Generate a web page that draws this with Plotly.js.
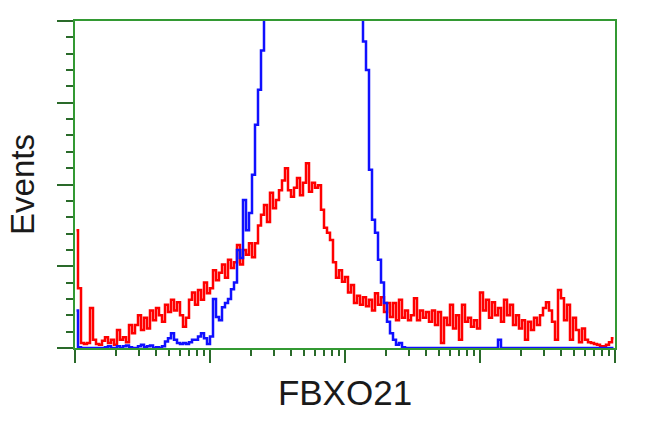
<!DOCTYPE html>
<html>
<head>
<meta charset="utf-8">
<script src="https://cdn.plot.ly/plotly-3.0.1.min.js"></script>
<style>html,body{margin:0;padding:0;background:#fff;}#chart{width:650px;height:431px;}</style>
</head>
<body>
<div id="chart"></div>
<script>
// Histogram counts per channel (180 channels spanning 4 log decades)
const redCounts = [
144,73,6,5,6,49,10,5,4,9,13,6,10,4,22,10,13,7,28,18,
28,40,22,37,24,46,34,49,40,32,53,44,59,46,56,40,26,37,59,68,
53,71,59,80,67,73,95,83,92,102,86,108,98,105,126,102,120,114,128,111,
128,150,163,175,154,190,171,181,193,205,220,193,185,196,208,187,202,226,191,202,
196,199,169,147,141,132,105,86,95,81,87,68,77,55,64,53,62,51,59,46,
67,53,62,44,55,38,55,34,59,37,46,34,40,61,34,46,37,44,32,46,
28,44,6,37,28,53,24,40,10,53,32,37,26,34,24,68,46,59,37,56,
40,49,32,59,40,53,28,40,24,34,10,32,22,37,28,40,49,56,46,32,
10,71,61,34,53,10,37,22,7,24,10,7,6,5,4,2,2,4,7,12
];
const blueCounts = [
46,1,0,0,0,0,0,0,0,0,1,2,0,0,2,0,2,3,1,0,
0,2,4,1,2,3,0,1,0,2,8,12,18,10,6,5,6,5,7,10,
10,14,18,12,5,14,60,38,34,50,55,60,72,80,120,110,181,144,165,212,
273,316,364,430,520,600,650,700,720,740,760,750,760,770,760,750,740,730,720,700,
690,680,670,650,640,620,600,580,560,540,520,500,480,460,440,420,375,340,218,157,
141,108,80,55,32,18,10,4,6,1,0,0,0,0,0,0,0,0,0,0,
0,0,0,0,0,0,0,0,0,0,0,0,0,0,0,0,0,0,0,0,
0,10,0,0,0,0,0,0,0,0,0,0,0,0,0,0,0,0,0,0,
0,0,0,0,0,0,0,0,0,0,0,0,0,0,0,0,0,0,0,0
];
const decades = [0, 1, 2, 3, 4];
const minorMultipliers = [2, 3, 4, 5, 6, 7, 8, 9];
const yMajor = [0, 100, 200, 300, 400];
const xTitle = 'FBXO21';
const yTitle = 'Events';

const nBins = redCounts.length;
const dx = 4 / nBins;
const minorX = [];
decades.slice(0, -1).forEach(d => minorMultipliers.forEach(m => minorX.push(d + Math.log10(m))));

const frame = '#339933';
const tickCol = '#2a6a2a';

const traces = [
  {type: 'scatter', mode: 'lines', x0: dx / 2, dx: dx, y: redCounts,
   line: {color: '#ff0000', width: 2.5, shape: 'hvh'}, hoverinfo: 'skip'},
  {type: 'scatter', mode: 'lines', x0: dx / 2, dx: dx, y: blueCounts,
   line: {color: '#1010ff', width: 2.5, shape: 'hvh'}, hoverinfo: 'skip'}
];

const layout = {
  width: 650, height: 431,
  margin: {l: 75, r: 35, t: 21, b: 83, pad: 0},
  paper_bgcolor: '#ffffff', plot_bgcolor: '#ffffff',
  showlegend: false,
  font: {family: 'Liberation Sans, Arial, sans-serif', color: '#1a1a1a'},
  xaxis: {
    range: [0, 4], tickmode: 'array', tickvals: decades, showticklabels: false,
    ticks: 'outside', ticklen: 13, tickwidth: 2, tickcolor: tickCol,
    showline: true, linecolor: frame, linewidth: 2, mirror: true,
    showgrid: false, zeroline: false,
    minor: {tickmode: 'array', tickvals: minorX, ticks: 'outside', ticklen: 6, tickwidth: 2, tickcolor: tickCol, showgrid: false},
    title: {text: xTitle, font: {size: 35, color: '#1a1a1a'}, standoff: 18}
  },
  yaxis: {
    range: [0, 400], tickmode: 'array', tickvals: yMajor, showticklabels: false,
    ticks: 'outside', ticklen: 16, tickwidth: 2, tickcolor: tickCol,
    showline: true, linecolor: frame, linewidth: 2, mirror: true,
    showgrid: false, zeroline: false,
    minor: {dtick: 20, ticks: 'outside', ticklen: 7, tickwidth: 2, tickcolor: tickCol, showgrid: false},
    title: {text: yTitle, font: {size: 33, color: '#1a1a1a'}, standoff: 12}
  }
};

Plotly.newPlot('chart', traces, layout, {displayModeBar: false, staticPlot: true});
</script>
</body>
</html>
